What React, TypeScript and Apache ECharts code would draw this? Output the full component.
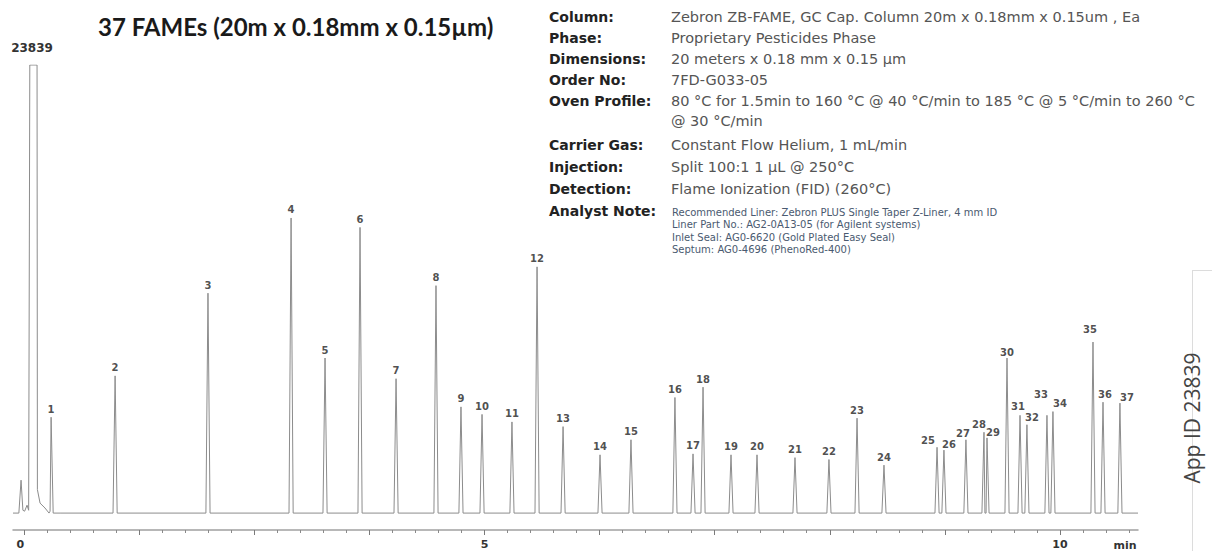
import { useEffect, useRef } from "react";
import * as echarts from "echarts";

// ---------- DATA ----------
const peakNumbers = [
  1, 2, 3, 4, 5, 6, 7, 8, 9, 10, 11, 12, 13, 14, 15, 16, 17, 18, 19, 20,
  21, 22, 23, 24, 25, 26, 27, 28, 29, 30, 31, 32, 33, 34, 35, 36, 37,
];
const retentionTimes = [
  1.235, 1.791, 2.598, 3.32, 3.615, 3.919, 4.232, 4.579, 4.796, 4.979,
  5.239, 5.457, 5.683, 6.004, 6.273, 6.655, 6.812, 6.899, 7.142, 7.368,
  7.698, 7.993, 8.237, 8.471, 8.932, 8.992, 9.183, 9.34, 9.366, 9.54,
  9.653, 9.713, 9.887, 9.939, 10.287, 10.374, 10.521,
];
const peakHeights = [
  5100, 7300, 11700, 15700, 8250, 15200, 7150, 12100, 5650, 5250,
  4850, 13100, 4600, 3100, 3900, 6150, 3150, 6700, 3100, 3100,
  2950, 2850, 5050, 2550, 3500, 3350, 3900, 4300, 4000, 8250,
  5200, 4700, 5200, 5400, 9100, 5900, 5850,
];
// solvent front / early trace: [minutes, signal]
const solventTrace: [number, number][] = [
  [0.904, 0], [0.955, 0], [0.974, 1750], [0.99, 150], [1.005, 100],
  [1.026, 420], [1.04, 150], [1.05, 23839], [1.113, 23839], [1.116, 1250],
  [1.139, 530], [1.182, 270], [1.226, 100], [1.313, 0],
];
const signalMax = 23839;
const majorTickValues = [1, 2, 3, 4, 5, 6, 7, 8, 9, 10];
const tickValues = [1, 5, 10];
const tickLabels = ["0", "5", "10"];
const axisUnit = "min";

const title = "37 FAMEs (20m x 0.18mm x 0.15µm)";
const infoLabels = [
  "Column:", "Phase:", "Dimensions:", "Order No:", "Oven Profile:", "",
  "Carrier Gas:", "Injection:", "Detection:", "Analyst Note:",
];
const infoValues = [
  "Zebron ZB-FAME, GC Cap. Column 20m x 0.18mm x 0.15um , Ea",
  "Proprietary Pesticides Phase",
  "20 meters x 0.18 mm x 0.15 µm",
  "7FD-G033-05",
  "80 °C for 1.5min to 160 °C @ 40 °C/min to 185 °C @ 5 °C/min to 260 °C",
  "@ 30 °C/min",
  "Constant Flow Helium, 1 mL/min",
  "Split 100:1 1 µL @ 250°C",
  "Flame Ionization (FID) (260°C)",
];
const analystNotes = [
  "Recommended Liner: Zebron PLUS Single Taper Z-Liner, 4 mm ID",
  "Liner Part No.: AG2-0A13-05 (for Agilent systems)",
  "Inlet Seal: AG0-6620 (Gold Plated Easy Seal)",
  "Septum: AG0-4696 (PhenoRed-400)",
];
const appId = "App ID 23839";

// ---------- STYLE ----------
const PEAK_HALF_WIDTH = 0.018;
const labelNudge: Record<number, [number, number]> = {
  25: [-9, 1], 26: [5, 2], 27: [-3, 2], 28: [-5, 0], 29: [6, 3], 30: [0, 2],
  31: [-2, -1], 32: [5, 1], 33: [-6, -13], 34: [7, 0], 35: [-3, -5],
  36: [2, 0], 37: [7, 2],
};
const infoRowY = [17, 38, 59, 80, 101, 121, 145, 167, 189, 211];
const noteRowY = [212, 224.5, 237, 249.5];

export default function App() {
  const ref = useRef<HTMLDivElement>(null);
  useEffect(() => {
    if (!ref.current) return;
    const chart = echarts.init(ref.current, undefined, { renderer: "svg" });

    const trace: [number, number][] = [...solventTrace];
    retentionTimes.forEach((t, i) => {
      trace.push([t - PEAK_HALF_WIDTH, 0], [t, peakHeights[i]], [t + PEAK_HALF_WIDTH, 0]);
    });
    trace.push([10.678, 0]);
    trace.sort((a, b) => a[0] - b[0]);

    const labelData = peakNumbers.map((n, i) => {
      const nudge = labelNudge[n] || [0, 0];
      return {
        value: [retentionTimes[i], peakHeights[i], n],
        label: { offset: nudge },
      };
    });

    const minorTicks: number[] = [];
    for (let k = 5; k <= 53; k++) minorTicks.push(Math.round(k * 20) / 100);

    const graphics: any[] = [
      {
        type: "text",
        x: 98,
        y: 26,
        style: {
          text: title,
          font: "bold 24px Lato",
          fill: "#1a1a1a",
          verticalAlign: "middle",
        },
      },
      {
        type: "text",
        x: 1125,
        y: 545,
        style: {
          text: axisUnit,
          font: "bold 11px 'DejaVu Sans'",
          fill: "#333",
          align: "center",
          verticalAlign: "middle",
        },
      },
      {
        type: "line",
        shape: { x1: 1192.5, y1: 270, x2: 1192.5, y2: 551 },
        style: { stroke: "#dcdcdc", lineWidth: 1 },
      },
      {
        type: "line",
        shape: { x1: 1192, y1: 270.5, x2: 1212, y2: 270.5 },
        style: { stroke: "#dcdcdc", lineWidth: 1 },
      },
      {
        type: "text",
        x: 1192,
        y: 418,
        rotation: Math.PI / 2,
        style: {
          text: appId,
          font: "21px 'Open Sans'",
          fill: "#444",
          align: "center",
          verticalAlign: "middle",
        },
      },
    ];
    infoLabels.forEach((l, i) => {
      if (!l) return;
      graphics.push({
        type: "text",
        x: 549,
        y: infoRowY[i],
        style: {
          text: l,
          font: "bold 14px 'DejaVu Sans'",
          fill: "#222",
          verticalAlign: "middle",
        },
      });
    });
    infoValues.forEach((v, i) => {
      graphics.push({
        type: "text",
        x: 671,
        y: infoRowY[i],
        style: {
          text: v,
          font: "14.5px 'DejaVu Sans'",
          fill: "#555",
          verticalAlign: "middle",
        },
      });
    });
    analystNotes.forEach((v, i) => {
      graphics.push({
        type: "text",
        x: 672,
        y: noteRowY[i],
        style: {
          text: v,
          font: "10px 'DejaVu Sans'",
          fill: "#4a5a70",
          verticalAlign: "middle",
        },
      });
    });

    const xCommon = { type: "value", min: 0.904, max: 10.678, splitLine: { show: false } };

    chart.setOption({
      animation: false,
      backgroundColor: "#ffffff",
      grid: { left: 13, right: 74, top: 65, bottom: 21 },
      xAxis: [
        {
          ...xCommon,
          axisLine: { show: true, onZero: false, lineStyle: { color: "#a0a0a0", width: 1.5 } },
          axisTick: {
            show: true,
            customValues: minorTicks,
            length: 3,
            lineStyle: { color: "#8a8a8a" },
          },
          axisLabel: {
            customValues: tickValues,
            alignMinLabel: "right",
            formatter: (v: number) => {
              const idx = tickValues.findIndex((t) => Math.abs(t - v) < 1e-6);
              return idx >= 0 ? tickLabels[idx] : "";
            },
            margin: 9,
            color: "#333",
            fontFamily: "DejaVu Sans",
            fontWeight: "bold",
            fontSize: 11,
          },
        },
        {
          ...xCommon,
          position: "bottom",
          axisLine: { show: false, onZero: false },
          axisTick: {
            show: true,
            customValues: majorTickValues,
            length: 5,
            lineStyle: { color: "#7a7a7a" },
          },
          axisLabel: { show: false },
        },
      ],
      yAxis: {
        type: "value",
        min: -900,
        max: signalMax,
        offset: -19,
        name: String(signalMax),
        nameLocation: "end",
        nameGap: 11,
        nameTextStyle: {
          color: "#333",
          fontFamily: "DejaVu Sans",
          fontWeight: "bold",
          fontSize: 12,
        },
        axisLine: { show: false },
        axisTick: { show: false },
        axisLabel: { show: false },
        splitLine: { show: false },
      },
      graphic: graphics,
      series: [
        {
          type: "line",
          data: trace,
          showSymbol: false,
          symbol: "none",
          clip: true,
          lineStyle: { color: "#8c8c8c", width: 1 },
          silent: true,
        },
        {
          type: "scatter",
          data: labelData,
          symbolSize: 0,
          silent: true,
          label: {
            show: true,
            position: "top",
            distance: 3,
            formatter: (p: any) => String(p.value[2]),
            color: "#222",
            fontFamily: "DejaVu Sans",
            fontWeight: "bold",
            fontSize: 10,
          },
        },
      ],
    });
    return () => chart.dispose();
  }, []);
  return (
    <div
      ref={ref}
      style={{ position: "fixed", left: 0, top: 0, width: 1212, height: 551 }}
    />
  );
}
